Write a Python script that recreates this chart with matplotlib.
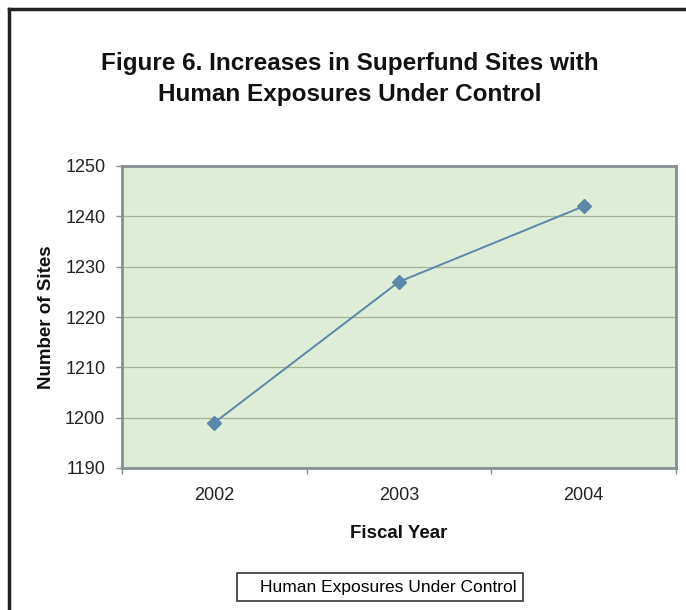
import matplotlib
matplotlib.use("Agg")
import matplotlib.pyplot as plt
from matplotlib.lines import Line2D
from matplotlib.ticker import FixedLocator

years = ["2002", "2003", "2004"]
sites = [1199, 1227, 1242]
yticks = [1190, 1200, 1210, 1220, 1230, 1240, 1250]
series_name = "Human Exposures Under Control"

plt.rcParams["font.family"] = ["Liberation Sans", "DejaVu Sans"]

fig = plt.figure(figsize=(6.86, 6.10), dpi=100)
W, H = 686, 610
ax = fig.add_axes([122 / W, 1 - 468 / H, 554 / W, 302 / H])

ax.set_facecolor("#DFEDD8")
pos = [i + 0.5 for i in range(len(years))]
line, = ax.plot(pos, sites, color="#5B87A8", lw=1.4, marker="D", markersize=7.5,
                markerfacecolor="#5B87A8", markeredgecolor="#5B87A8", zorder=3)

ax.set_xlim(0, len(years))
ax.set_ylim(yticks[0], yticks[-1])
ax.set_yticks(yticks)
ax.yaxis.grid(True, color="#A3B398", lw=0.9)
ax.set_axisbelow(True)

ax.xaxis.set_major_locator(FixedLocator(range(len(years) + 1)))
ax.set_xticklabels([])
ax.xaxis.set_minor_locator(FixedLocator(pos))
ax.set_xticklabels(years, minor=True)
ax.tick_params(axis="x", which="major", length=4, color="#868E96", width=1)
ax.tick_params(axis="x", which="minor", length=0, pad=14, labelsize=13, labelcolor="#222222")
ax.tick_params(axis="y", length=4, color="#868E96", width=1, pad=8, labelsize=13, labelcolor="#222222")

for s in ax.spines.values():
    s.set_color("#868E96")
    s.set_linewidth(2)

ax.set_xlabel("Fiscal Year", fontsize=13.5, fontweight="bold", labelpad=15, color="#111111")
ax.set_ylabel("Number of Sites", fontsize=13.5, fontweight="bold", labelpad=7, color="#111111")

fig.text(350 / W, 1 - 79 / H, "Figure 6. Increases in Superfund Sites with\nHuman Exposures Under Control",
         ha="center", va="center", fontsize=17.5, fontweight="bold", linespacing=1.45, color="#111111")

leg = fig.legend([line], [series_name], loc="center", bbox_to_anchor=(380 / W, 1 - 587 / H),
                 fontsize=12.5, frameon=True, fancybox=False, handlelength=0.6, handletextpad=0.4,
                 borderpad=0.35)
leg.get_frame().set_edgecolor("black")
leg.get_frame().set_linewidth(1.2)
leg.legend_handles[0].set_visible(False)

# outer border (only top and left fall inside the picture)
fig.add_artist(Line2D([9 / W, 1], [1 - 9 / H, 1 - 9 / H], transform=fig.transFigure, color="#222222", lw=2.5))
fig.add_artist(Line2D([9 / W, 9 / W], [0, 1 - 9 / H], transform=fig.transFigure, color="#222222", lw=2.5))

fig.savefig("out.png", dpi=100)
